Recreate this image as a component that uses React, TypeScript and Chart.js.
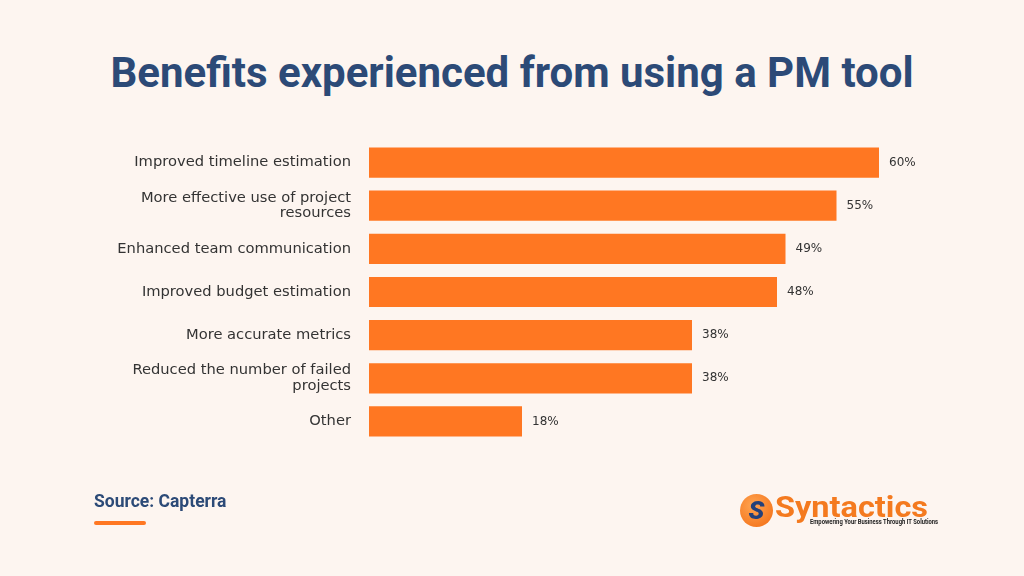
import React, { useEffect, useRef } from "react";
import { Chart, registerables } from "chart.js";
Chart.register(...registerables);

const categories: (string | string[])[] = [
  "Improved timeline estimation",
  ["More effective use of project", "resources"],
  "Enhanced team communication",
  "Improved budget estimation",
  "More accurate metrics",
  ["Reduced the number of failed", "projects"],
  "Other",
];
const values = [60, 55, 49, 48, 38, 38, 18];
const titleText = "Benefits experienced from using a PM tool";
const sourceText = "Source: Capterra";

const BG = "#FDF5F0";
const ORANGE = "#FF7722";
const NAVY = "#2C4A77";

const valueLabels = {
  id: "valueLabels",
  afterDatasetsDraw(chart: any) {
    const ctx = chart.ctx;
    const meta = chart.getDatasetMeta(0);
    ctx.save();
    ctx.font = "12px 'DejaVu Sans'";
    ctx.fillStyle = "#333333";
    ctx.textAlign = "left";
    ctx.textBaseline = "middle";
    meta.data.forEach((bar: any, i: number) => {
      ctx.fillText(values[i] + "%", bar.x + 10, bar.y);
    });
    ctx.restore();
  },
};

export default function App() {
  const ref = useRef<HTMLCanvasElement>(null);
  useEffect(() => {
    document.body.style.margin = "0";
    const chart = new Chart(ref.current!, {
      type: "bar",
      data: {
        labels: categories,
        datasets: [
          {
            data: values,
            backgroundColor: ORANGE,
            barPercentage: 0.7,
            categoryPercentage: 1,
          },
        ],
      },
      options: {
        indexAxis: "y",
        animation: false,
        responsive: false,
        layout: { padding: { left: 0, right: 60, top: 141, bottom: 133 } },
        plugins: { legend: { display: false }, tooltip: { enabled: false } },
        scales: {
          x: { display: false, min: 0, max: 70 },
          y: {
            afterFit: (s: any) => {
              s.width = 369;
            },
            grid: { display: false },
            border: { display: false },
            ticks: {
              padding: 10,
              color: "#333333",
              font: { family: "'DejaVu Sans'", size: 14.7, lineHeight: 1.05 },
            },
          },
        },
      },
      plugins: [valueLabels],
    });
    return () => chart.destroy();
  }, []);

  return (
    <div style={{ position: "relative", width: 1024, height: 576, background: BG, overflow: "hidden" }}>
      <div
        style={{
          position: "absolute",
          top: 47,
          left: 0,
          width: 1024,
          textAlign: "center",
          fontFamily: "Roboto",
          fontWeight: 700,
          fontSize: 42,
          color: NAVY,
          lineHeight: "52px",
        }}
      >
        {titleText}
      </div>
      <canvas ref={ref} width={1024} height={576} style={{ position: "absolute", left: 0, top: 0 }} />
      <div
        style={{
          position: "absolute",
          left: 94,
          top: 491,
          fontFamily: "Roboto",
          fontWeight: 700,
          fontSize: 17.5,
          color: NAVY,
          lineHeight: "20px",
        }}
      >
        {sourceText}
      </div>
      <div style={{ position: "absolute", left: 94, top: 521, width: 52, height: 4, borderRadius: 2, background: ORANGE }} />
      <div style={{ position: "absolute", left: 740, top: 494, width: 33, height: 33, borderRadius: 17, background: "radial-gradient(circle at 40% 35%, #FFA552, #F26A10)" }}>
        <div style={{ position: "absolute", left: 0, top: 0, width: 33, textAlign: "center", fontFamily: "Roboto", fontWeight: 900, fontSize: 26, lineHeight: "33px", color: "#23407A", fontStyle: "italic" }}>S</div>
      </div>
      <div style={{ position: "absolute", left: 775, top: 492, fontFamily: "Roboto", fontWeight: 700, fontSize: 29, lineHeight: "30px", color: "#F47A1F", transform: "scaleX(1.12)", transformOrigin: "left top" }}>Syntactics</div>
      <div style={{ position: "absolute", left: 810, top: 518, fontFamily: "Roboto", fontWeight: 700, fontSize: 6.5, lineHeight: "8px", color: "#222", transform: "scaleX(0.9)", transformOrigin: "left top", whiteSpace: "nowrap" }}>Empowering Your Business Through IT Solutions</div>
    </div>
  );
}
